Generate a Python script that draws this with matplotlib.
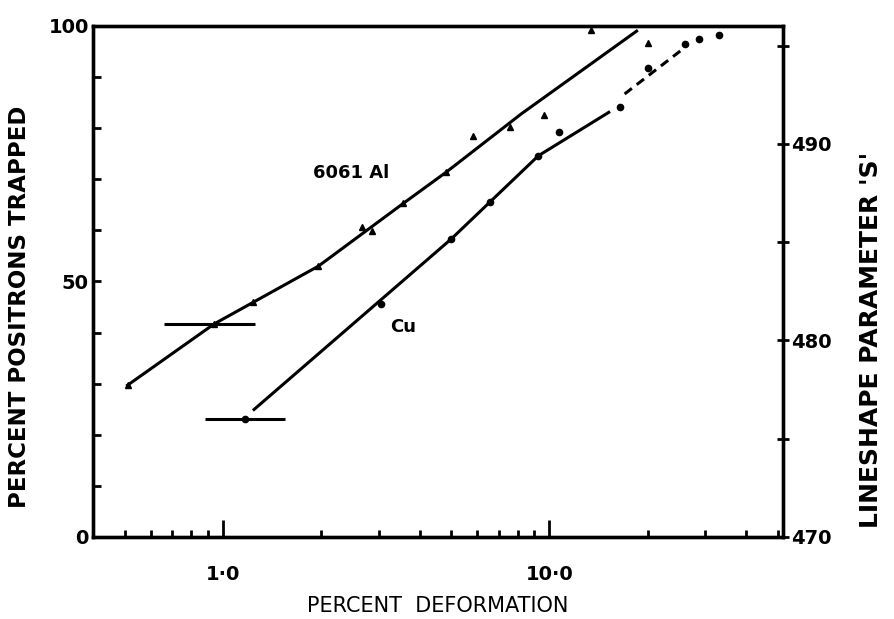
import matplotlib.pyplot as plt
import numpy as np
from matplotlib.ticker import FixedLocator, NullFormatter

# 6061 Al data points (percent deformation, percent trapped)
al_x = [0.51, 0.94, 1.24, 1.96, 2.66, 2.86, 3.57, 4.83, 5.84, 7.6, 9.6, 13.4, 20.0]
al_y = [29.7, 41.7, 45.9, 53.0, 60.6, 59.9, 65.3, 71.4, 78.4, 80.3, 82.6, 99.3, 96.7]
# line drawn through the Al points
al_line_x = [0.51, 0.94, 1.96, 3.57, 4.83, 8.2, 18.5]
al_line_y = [29.7, 41.7, 53.0, 65.3, 71.4, 82.8, 99.0]

# Cu data points
cu_x = [1.17, 3.05, 5.0, 6.6, 9.25, 10.7, 16.5, 20.0, 26.0, 28.7, 30.7, 33.0]
cu_y = [23.1, 45.5, 58.3, 65.5, 74.6, 79.2, 84.2, 91.8, 96.4, 97.5, 101.4, 98.3]
cu_line_x = [1.245, 5.0, 9.25, 15.2]
cu_line_y = [24.95, 58.3, 74.6, 83.1]
cu_dash_x = [17.0, 25.4]
cu_dash_y = [86.7, 95.3]

# horizontal error bars: x, y, low error, high error
al_err = [0.94, 41.7, 0.28, 0.31]
cu_err = [1.17, 23.1, 0.29, 0.38]

fig = plt.figure(figsize=(8.95, 6.19), dpi=100)
ax = fig.add_axes([0.104, 0.1325, 0.771, 0.8255])

ax.set_xscale('log')
ax.set_xlim(0.4, 52)
ax.set_ylim(0, 100)

ax.plot(al_line_x, al_line_y, color='black', lw=2.2)
ax.plot(cu_line_x, cu_line_y, color='black', lw=2.2)
ax.plot(cu_dash_x, cu_dash_y, color='black', lw=2.2, linestyle=(0, (3, 2)))
ax.plot(al_x, al_y, '^', color='black', ms=4.5)
ax.plot(cu_x, cu_y, 'o', color='black', ms=4.5)
ax.errorbar([al_err[0]], [al_err[1]], xerr=[[al_err[2]], [al_err[3]]],
            fmt='none', ecolor='black', elinewidth=2.2, capsize=0)
ax.errorbar([cu_err[0]], [cu_err[1]], xerr=[[cu_err[2]], [cu_err[3]]],
            fmt='none', ecolor='black', elinewidth=2.2, capsize=0)

ax.text(2.47, 71.2, '6061 Al', fontsize=13, fontweight='bold', ha='center', va='center')
ax.text(3.57, 41, 'Cu', fontsize=13, fontweight='bold', ha='center', va='center')

for s in ax.spines.values():
    s.set_linewidth(2.4)

ax.set_xticks([1, 10])
ax.set_xticklabels(['1·0', '10·0'], fontsize=14, fontweight='bold')
minors = [0.5, 0.6, 0.7, 0.8, 0.9, 2, 3, 4, 5, 6, 7, 8, 9, 20, 30, 40, 50]
ax.xaxis.set_minor_locator(FixedLocator(minors))
ax.xaxis.set_minor_formatter(NullFormatter())
ax.tick_params(axis='x', which='major', direction='in', length=12, width=2, pad=20)
ax.tick_params(axis='x', which='minor', direction='in', length=5, width=2)

ax.set_yticks([0, 50, 100])
ax.set_yticklabels(['0', '50', '100'], fontsize=14, fontweight='bold')
ax.yaxis.set_minor_locator(FixedLocator([10, 20, 30, 40, 60, 70, 80, 90]))
ax.tick_params(axis='y', which='both', direction='in', length=6, width=2, pad=3)
ax.tick_params(top=False, right=False)

ax.set_xlabel('PERCENT  DEFORMATION', fontsize=15, labelpad=9)
ax.set_ylabel('PERCENT POSITRONS TRAPPED', fontsize=16.5, fontweight='bold')
ax.yaxis.set_label_coords(-0.09, 0.45)

ax2 = ax.twinx()
ax2.set_ylim(470, 496)
ax2.set_yticks([470, 480, 490])
ax2.set_yticklabels(['470', '480', '490'], fontsize=14, fontweight='bold')
ax2.yaxis.set_minor_locator(FixedLocator([475, 485, 495]))
ax2.tick_params(axis='y', which='both', direction='inout', length=8, width=2, pad=2)
ax2.set_ylabel("LINESHAPE PARAMETER 'S'", fontsize=18, fontweight='bold')
ax2.yaxis.set_label_coords(1.11, 0.385)
for s in ax2.spines.values():
    s.set_linewidth(2.4)

fig.savefig('out.png', dpi=100)
